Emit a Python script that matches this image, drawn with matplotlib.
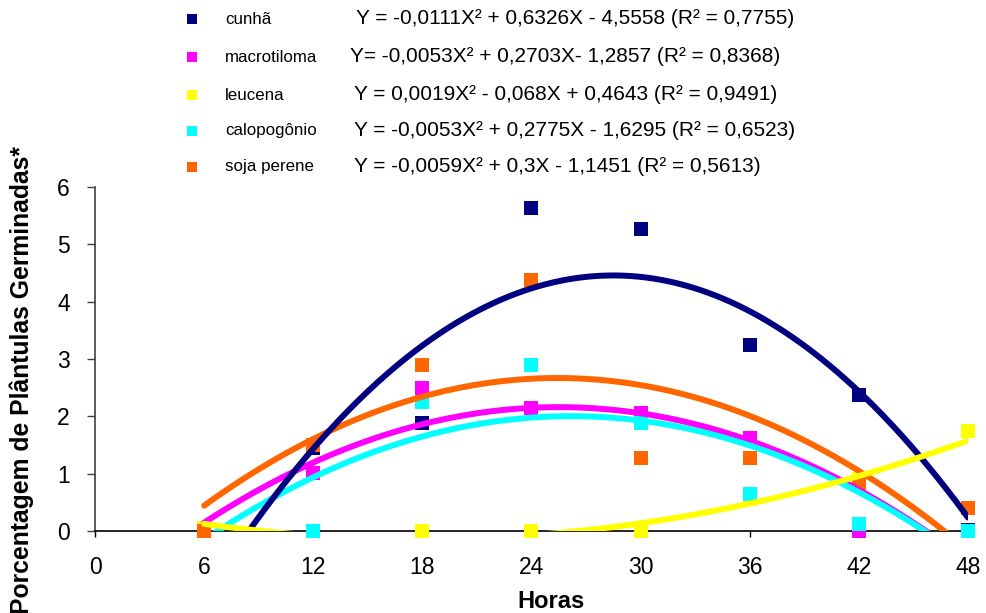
import numpy as np
import matplotlib
matplotlib.use("Agg")
import matplotlib.pyplot as plt
from matplotlib.lines import Line2D

plt.rcParams['font.family'] = ['Liberation Sans', 'DejaVu Sans']

hours = [6, 12, 18, 24, 30, 36, 42, 48]
series_names = ["cunhã", "macrotiloma", "leucena", "calopogônio", "soja perene"]
cunha = [0.0, 1.45, 1.88, 5.64, 5.27, 3.25, 2.37, 0.02]
macrotiloma = [0.0, 1.02, 2.50, 2.15, 2.06, 1.63, 0.0, 0.0]
leucena = [0.05, 0.0, 0.0, 0.0, 0.0, 0.55, 0.9, 1.75]
calopogonio = [0.0, 0.0, 2.25, 2.90, 1.88, 0.65, 0.12, 0.0]
soja = [0.0, 1.50, 2.90, 4.37, 1.28, 1.28, 0.80, 0.40]
values = [cunha, macrotiloma, leucena, calopogonio, soja]

# trendline coefficients (a, b, c) as printed in the chart
coef_cunha = [-0.0111, 0.6326, -4.5558]
coef_macro = [-0.0053, 0.2703, -1.2857]
coef_leuc = [0.0019, -0.068, 0.4643]
coef_calo = [-0.0053, 0.2775, -1.6295]
coef_soja = [-0.0059, 0.3, -1.1451]
coefs = [coef_cunha, coef_macro, coef_leuc, coef_calo, coef_soja]

equations = [
    "Y = -0,0111X² + 0,6326X - 4,5558 (R² = 0,7755)",
    "Y= -0,0053X² + 0,2703X- 1,2857 (R² = 0,8368)",
    "Y = 0,0019X² - 0,068X + 0,4643 (R² = 0,9491)",
    "Y = -0,0053X² + 0,2775X - 1,6295 (R² = 0,6523)",
    "Y = -0,0059X² + 0,3X - 1,1451 (R² = 0,5613)",
]
colors = ["#000080", "#FF00FF", "#FFFF00", "#00FFFF", "#FF6600"]

x_ticks = [0, 6, 12, 18, 24, 30, 36, 42, 48]
y_ticks = [0, 1, 2, 3, 4, 5, 6]

W, H = 986, 613
fig = plt.figure(figsize=(W / 100, H / 100), dpi=100)
ax = fig.add_axes([95 / W, 1 - 531 / H, (968 - 95) / W, (531 - 187) / H])

xs = np.linspace(hours[0], hours[-1], 300)
# points
for i in range(5):
    ax.plot(hours, values[i], linestyle='none', marker='s', markersize=9.5,
            color=colors[i], markeredgewidth=0, zorder=3, clip_on=False)
# trendlines
for i in [4, 1, 3, 0, 2]:
    ax.plot(xs, np.polyval(coefs[i], xs), color=colors[i], lw=4.3,
            solid_capstyle='round', zorder=4)

ax.set_xlim(0, 48)
ax.set_ylim(0, 6)
ax.set_xticks(x_ticks)
ax.set_yticks(y_ticks)
ax.tick_params(axis='both', labelsize=16.5, colors='black')
ax.tick_params(axis='y', direction='out', length=6, width=1, color='#404040', pad=12)
ax.tick_params(axis='x', direction='out', length=4, width=1, pad=14)
for s in ['top', 'right']:
    ax.spines[s].set_visible(False)
ax.spines['left'].set_color('#404040')
ax.spines['bottom'].set_color('black')
ax.spines['left'].set_linewidth(1.2)
ax.spines['bottom'].set_linewidth(1.2)

fig.text(551 / W, 1 - 602 / H, "Horas", ha='center', va='center',
         fontsize=17, fontweight='bold')
fig.text(22 / W, 1 - 380 / H, "Porcentagem de Plântulas Germinadas*", ha='center',
         va='center', rotation=90, fontsize=17.8, fontweight='bold')

# legend
rows_y = [19, 57, 95, 131, 167]
eq_x = [356, 350, 354, 354, 354]
for i in range(5):
    yy = 1 - rows_y[i] / H
    fig.add_artist(Line2D([192 / W], [yy], marker='s', markersize=7,
                          color=colors[i], markeredgewidth=0, linestyle='none',
                          transform=fig.transFigure))
    fig.text(225 / W, yy, series_names[i], ha='left', va='center', fontsize=12.2)
    fig.text(eq_x[i] / W, yy, equations[i], ha='left', va='center', fontsize=15)

fig.savefig("out.png", dpi=100)
